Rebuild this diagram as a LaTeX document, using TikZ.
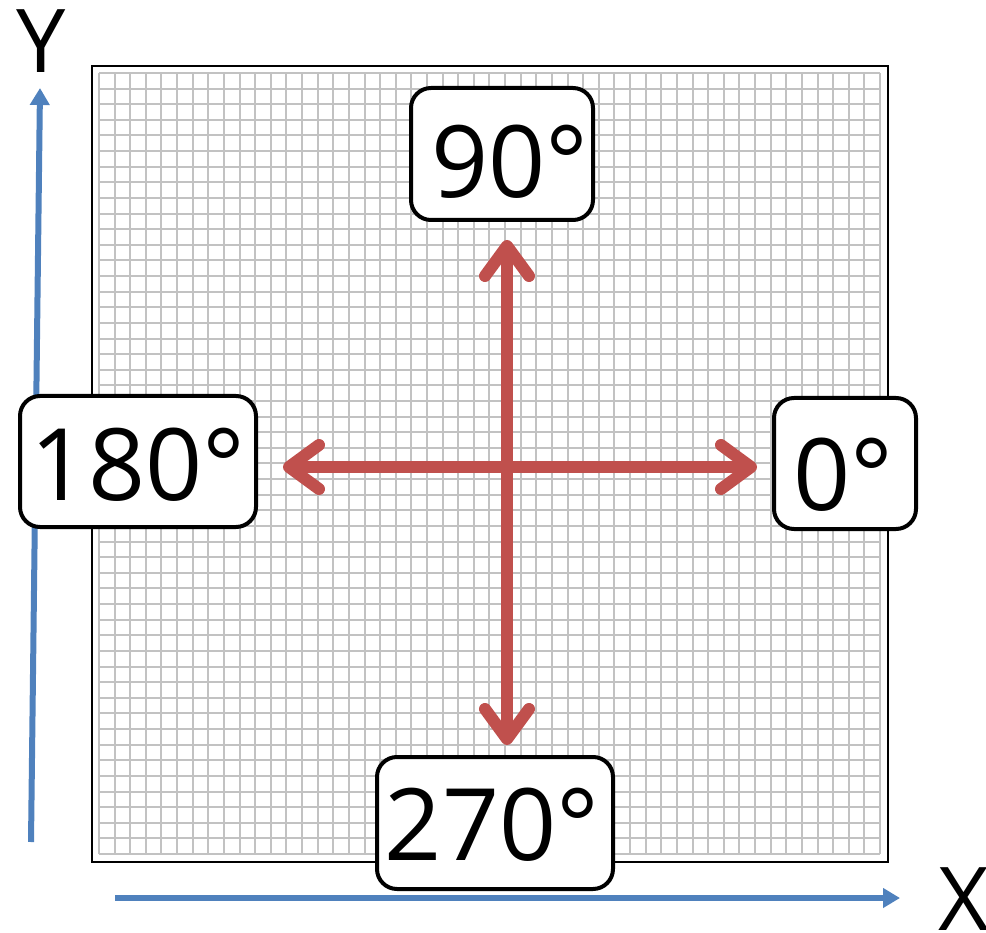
\documentclass[tikz,border=0pt]{standalone}
\usepackage{fontspec}
\setmainfont{Open Sans}
\usetikzlibrary{arrows.meta}
\definecolor{axisblue}{HTML}{4F81BD}
\definecolor{arrowred}{HTML}{C0504D}
\definecolor{gridgray}{HTML}{C2C2C2}
\tikzset{
  degbox/.style={draw=black, line width=4pt, rounded corners=20pt, fill=white,
    inner sep=0pt},
  degtext/.style={inner sep=0pt, anchor=base, font=\fontsize{100}{100}\selectfont, text=black},
  axisline/.style={draw=axisblue, line width=6pt, -{Triangle[length=17pt,width=19pt]}},
  dirarrow/.style={draw=arrowred, line width=12pt, line cap=round,
    -{Straight Barb[round,length=30pt,width=44pt]}},
  axislabel/.style={inner sep=0pt, anchor=base, font=\fontsize{88}{88}\selectfont},
  gridline/.style={draw=gridgray, line width=2pt},
}
\begin{document}
\begin{tikzpicture}[x=1pt,y=-1pt]
\useasboundingbox (0,0) rectangle (986,933);
% frame and grid
\draw[black, line width=1.5pt] (92,66) rectangle (888,862);
\foreach \i in {0,...,50}{
  \pgfmathsetmacro{\p}{round(99+\i*15.62)}
  \pgfmathsetmacro{\q}{round(73+\i*15.62)}
  \draw[gridline] (\p,73) -- (\p,854);
  \draw[gridline] (99,\q) -- (880,\q);
}
% axes
\coordinate (ybot) at (31,842);
\coordinate (ytop) at (40,88);
\coordinate (xleft) at (115,898);
\coordinate (xright) at (900,898);
\draw[axisline] (ybot) -- (ytop);
\draw[axisline] (xleft) -- (xright);
\node[axislabel] (ylab) at (41,73) {Y};
\node[axislabel] (xlab) at (964,930) {X};
% direction arrows
\coordinate (c) at (507,467);
\coordinate (tipup) at (507,240);
\coordinate (tipdown) at (507,745);
\coordinate (tipleft) at (283,467);
\coordinate (tipright) at (757,467);
\draw[dirarrow] (c) -- (tipup);
\draw[dirarrow] (c) -- (tipdown);
\draw[dirarrow] (c) -- (tipleft);
\draw[dirarrow] (c) -- (tipright);
% label boxes
\node[degbox, minimum width=182pt, minimum height=132pt] (n90) at (502,154) {};
\node[degbox, minimum width=236pt, minimum height=131pt] (n180) at (138,461.5) {};
\node[degbox, minimum width=142pt, minimum height=131pt] (n0) at (845,463.5) {};
\node[degbox, minimum width=236pt, minimum height=132pt] (n270) at (495,823) {};
% label texts
\node[degtext] (t90) at (510,198) {90°};
\node[degtext] (t180) at (138,500) {180°};
\node[degtext] (t0) at (843,510) {0°};
\node[degtext] (t270) at (492,860) {270°};
\end{tikzpicture}
\end{document}
